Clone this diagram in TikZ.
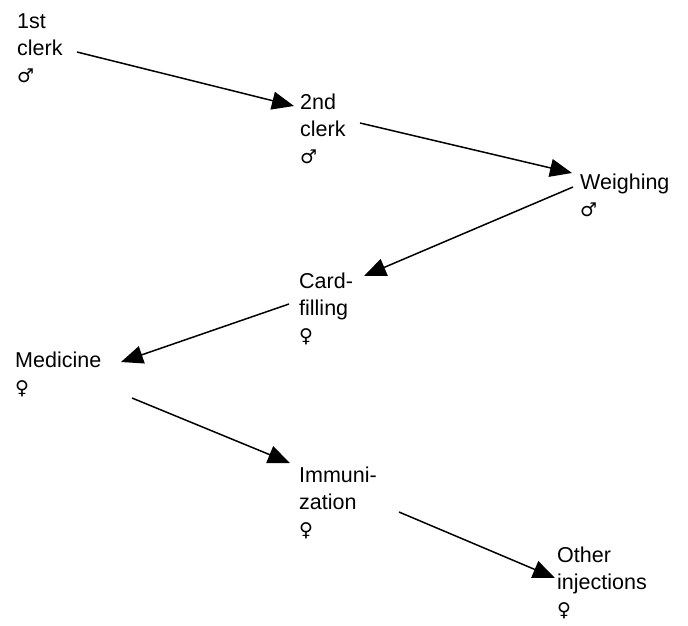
\documentclass[tikz,border=0pt]{standalone}
\usepackage{fontspec}
\setmainfont{Liberation Sans}
\newfontfamily\symfont{DejaVu Sans}
\usetikzlibrary{arrows.meta}
\newcommand{\male}{{\symfont\fontsize{19pt}{27pt}\selectfont ♂}}
\newcommand{\female}{{\symfont\fontsize{19pt}{27pt}\selectfont ♀}}
\begin{document}
\begin{tikzpicture}[x=1pt,y=-1pt,
  lbl/.style={align=left,anchor=base west,inner sep=0pt,
    font=\fontsize{21.5pt}{27pt}\selectfont},
  flow/.style={line width=1.5pt,-{Triangle[length=22pt,width=18pt]}}]
\useasboundingbox (0,0) rectangle (688,625);
% anchors are at the baseline of the last line
\node[lbl] (n1) at (17,82)   {1st\\clerk\\\male};
\node[lbl] (n2) at (300,163) {2nd\\clerk\\\male};
\node[lbl] (n3) at (580,216) {Weighing\\\male};
\node[lbl] (n4) at (299,342) {Card-\\filling\\\female};
\node[lbl] (n5) at (15,394)  {Medicine\\\female};
\node[lbl] (n6) at (299,536) {Immuni-\\zation\\\female};
\node[lbl] (n7) at (557,616) {Other\\injections\\\female};
\coordinate (a1s) at (77,52);   \coordinate (a1e) at (294,106);
\coordinate (a2s) at (360,123); \coordinate (a2e) at (572,173);
\coordinate (a3s) at (573,187); \coordinate (a3e) at (364,276);
\coordinate (a4s) at (289,304); \coordinate (a4e) at (121,362);
\coordinate (a5s) at (132,398); \coordinate (a5e) at (290,463);
\coordinate (a6s) at (399,512); \coordinate (a6e) at (555,578);
\draw[flow] (a1s) -- (a1e);
\draw[flow] (a2s) -- (a2e);
\draw[flow] (a3s) -- (a3e);
\draw[flow] (a4s) -- (a4e);
\draw[flow] (a5s) -- (a5e);
\draw[flow] (a6s) -- (a6e);
\end{tikzpicture}
\end{document}
